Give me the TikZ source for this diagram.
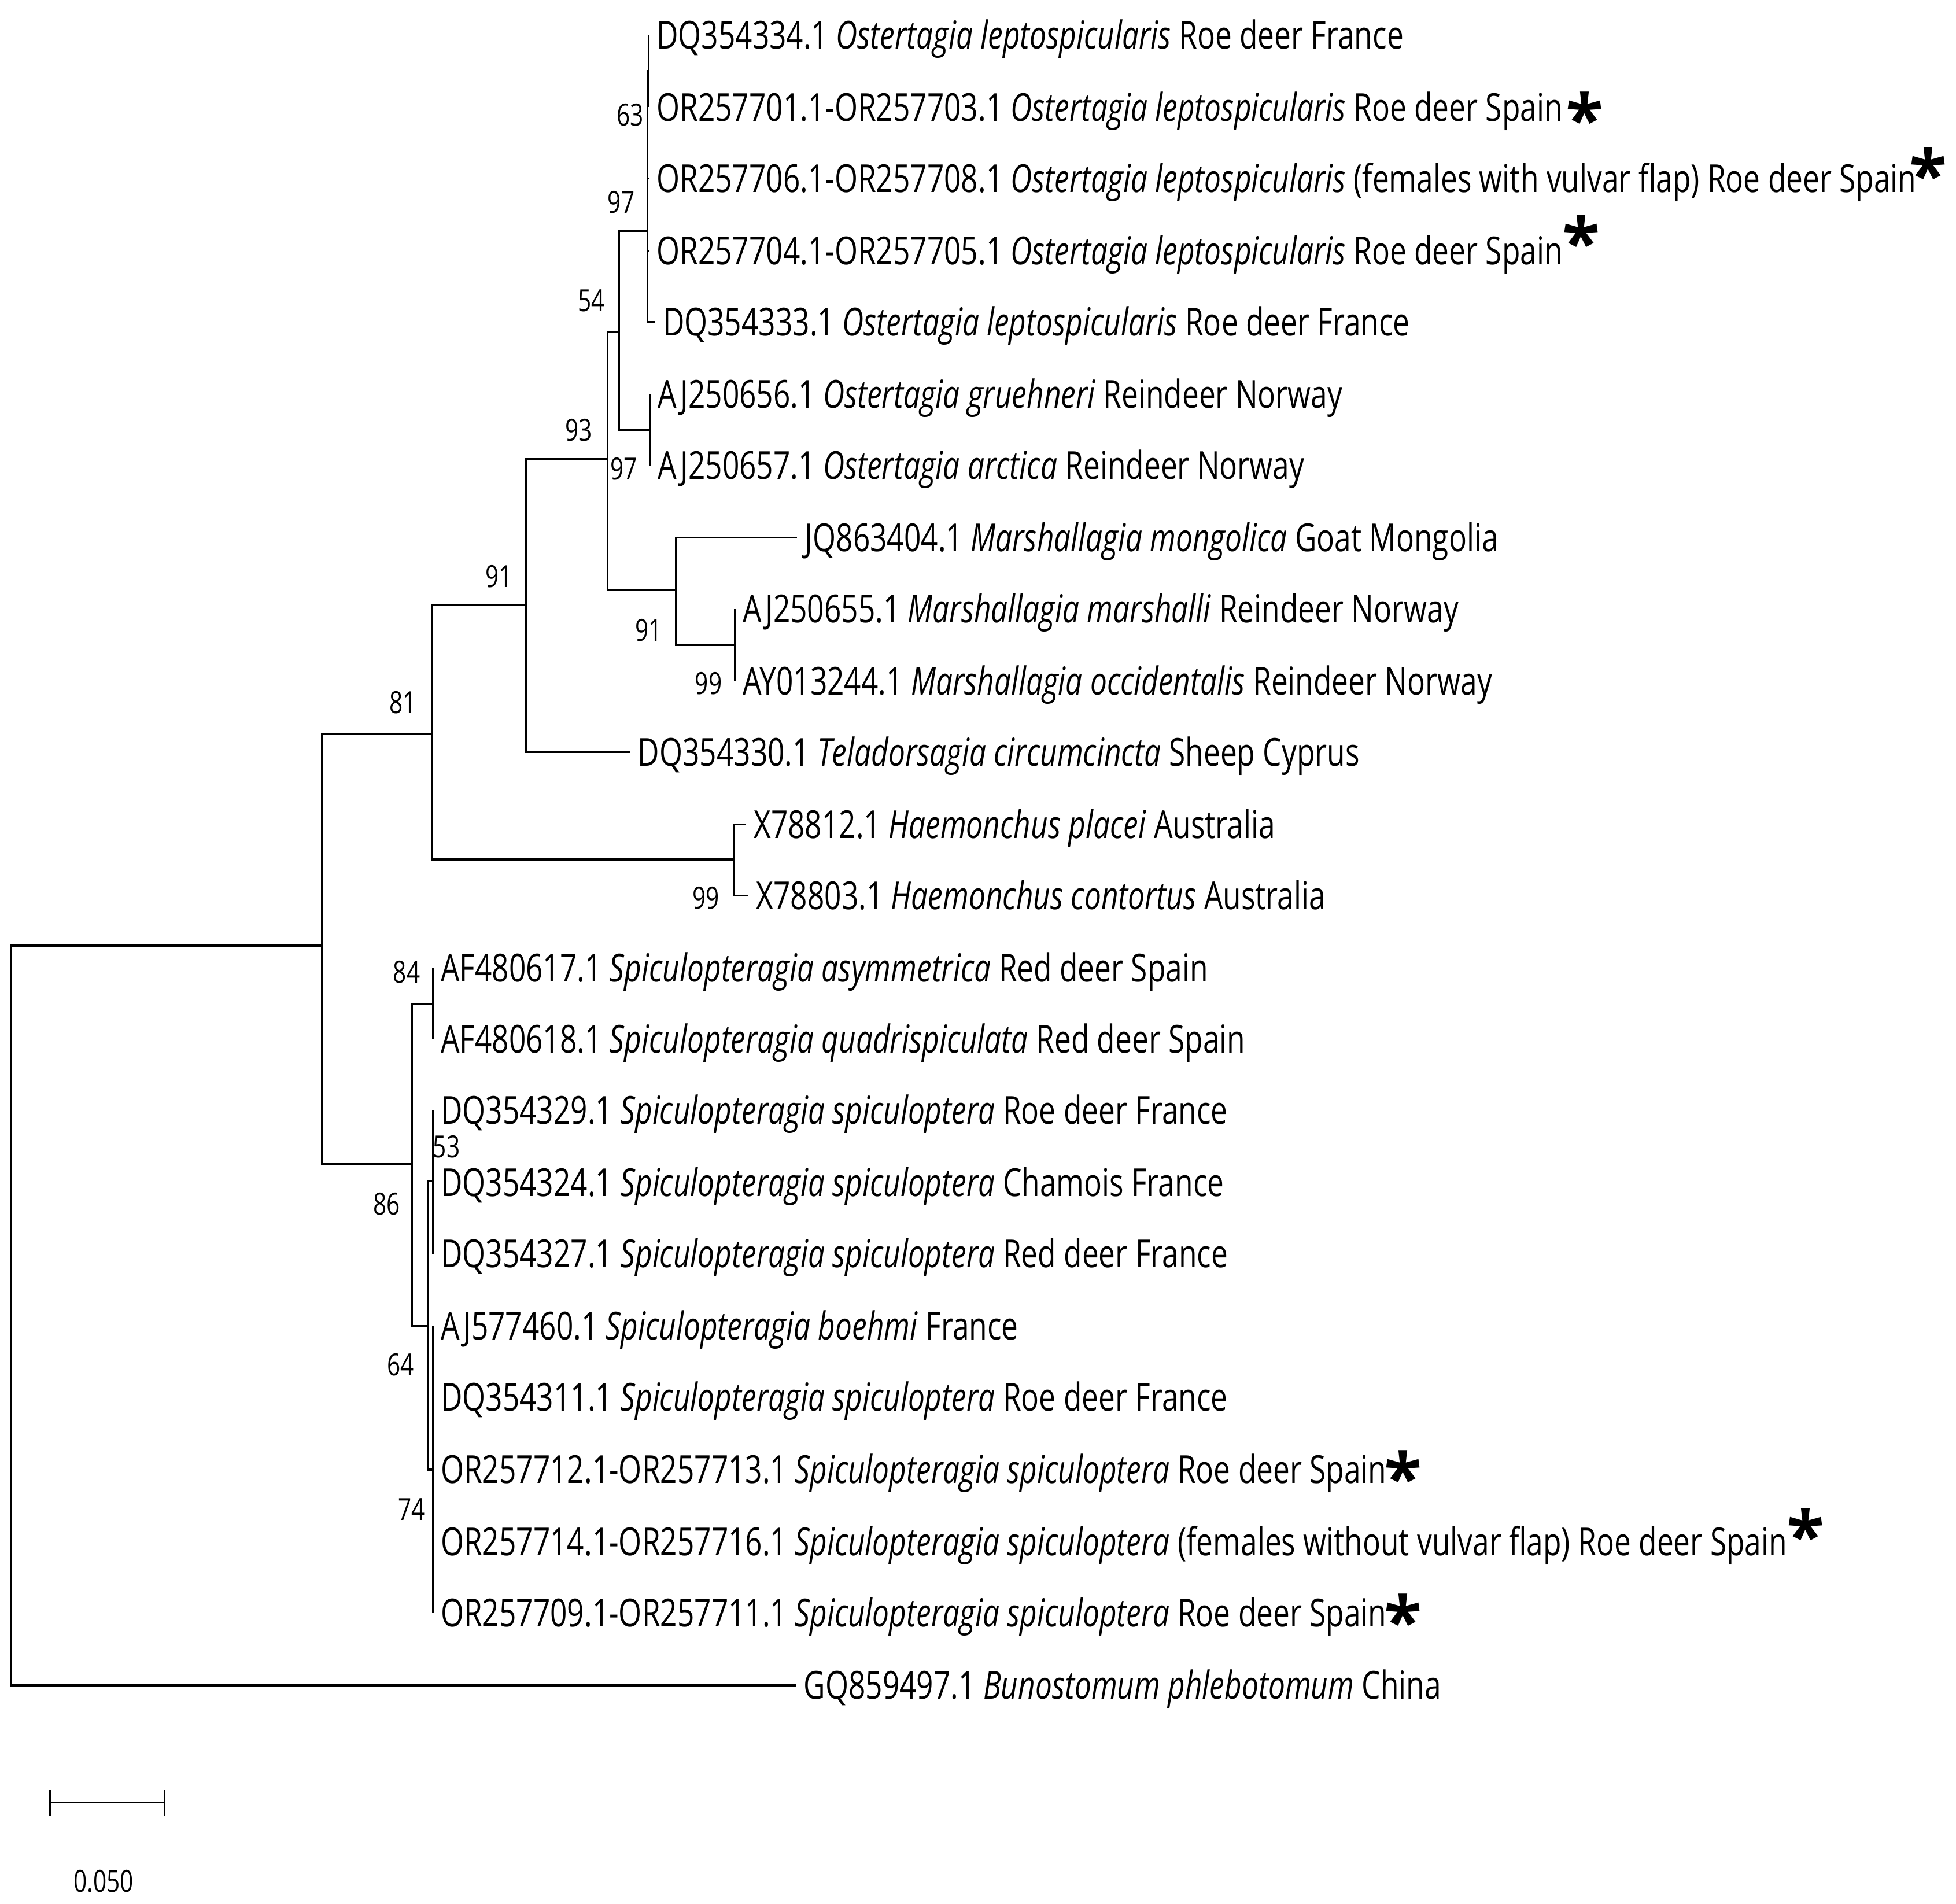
\documentclass[tikz,border=0pt]{standalone}
\usepackage{fontspec}
\setmainfont[FakeStretch=0.77]{Open Sans}
\newfontfamily\astfont{Open Sans}
\usetikzlibrary{arrows}
\tikzset{
  branch/.style={line width=1pt},
  leaf/.style={anchor=west, inner xsep=0.13cm, inner ysep=0pt,
    text height=0.48cm, text depth=0pt, font=\fontsize{19}{22}\selectfont},
  boot/.style={inner sep=0pt, font=\fontsize{15}{18}\selectfont}
}
% #1 gap before the mark, #2 raise
\newcommand{\spainmark}[2]{\hspace{#1}\raisebox{#2}{\astfont\bfseries\fontsize{34}{34}\selectfont *}}

\begin{document}
\begin{tikzpicture}[x=0.02157cm, y=-0.02157cm]
      \useasboundingbox (0,0) rectangle (1568,1526);
      % inner nodes
      \coordinate (r) at (9,1055);
      \coordinate (a) at (258,758);
      \coordinate (n81) at (346,588);
      \coordinate (n91) at (422,485);
      \coordinate (n93) at (487,368);
      \coordinate (n54) at (496,266);
      \coordinate (n97) at (519,185);
      \coordinate (n63) at (520,57);
      \coordinate (naj) at (521,345);
      \coordinate (nm) at (542,473);
      \coordinate (nmm) at (589,517);
      \coordinate (nh) at (588,689);
      \coordinate (n86) at (330,933);
      \coordinate (n84) at (347,805);
      \coordinate (n64) at (343,1063);
      \coordinate (n53) at (347,947);
      \coordinate (n74) at (347,1178);
      % leaves
      \node[leaf] (l1) at (520,28) {DQ354334.1 \textit{Ostertagia leptospicularis} Roe deer France};
      \node[leaf] (l2) at (520,86) {OR257701.1-OR257703.1 \textit{Ostertagia leptospicularis} Roe deer Spain\spainmark{0.06cm}{-0.40cm}};
      \node[leaf] (l3) at (520,143) {OR257706.1-OR257708.1 \textit{Ostertagia leptospicularis} (females with vulvar flap) Roe deer Spain\spainmark{-0.12cm}{-0.13cm}};
      \node[leaf] (l4) at (520,201) {OR257704.1-OR257705.1 \textit{Ostertagia leptospicularis} Roe deer Spain\spainmark{0cm}{-0.05cm}};
      \node[leaf] (l5) at (525,258) {DQ354333.1 \textit{Ostertagia leptospicularis} Roe deer France};
      \node[leaf] (l6) at (521,316) {AJ250656.1 \textit{Ostertagia gruehneri} Reindeer Norway};
      \node[leaf] (l7) at (521,373) {AJ250657.1 \textit{Ostertagia arctica} Reindeer Norway};
      \node[leaf] (l8) at (639,431) {JQ863404.1 \textit{Marshallagia mongolica} Goat Mongolia};
      \node[leaf] (l9) at (589,488) {AJ250655.1 \textit{Marshallagia marshalli} Reindeer Norway};
      \node[leaf] (l10) at (589,546) {AY013244.1 \textit{Marshallagia occidentalis} Reindeer Norway};
      \node[leaf] (l11) at (505,603) {DQ354330.1 \textit{Teladorsagia circumcincta} Sheep Cyprus};
      \node[leaf] (l12) at (598,661) {X78812.1 \textit{Haemonchus placei} Australia};
      \node[leaf] (l13) at (600,718) {X78803.1 \textit{Haemonchus contortus} Australia};
      \node[leaf] (l14) at (347,776) {AF480617.1 \textit{Spiculopteragia asymmetrica} Red deer Spain};
      \node[leaf] (l15) at (347,833) {AF480618.1 \textit{Spiculopteragia quadrispiculata} Red deer Spain};
      \node[leaf] (l16) at (347,890) {DQ354329.1 \textit{Spiculopteragia spiculoptera} Roe deer France};
      \node[leaf] (l17) at (347,948) {DQ354324.1 \textit{Spiculopteragia spiculoptera} Chamois France};
      \node[leaf] (l18) at (347,1005) {DQ354327.1 \textit{Spiculopteragia spiculoptera} Red deer France};
      \node[leaf] (l19) at (347,1063) {AJ577460.1 \textit{Spiculopteragia boehmi} France};
      \node[leaf] (l20) at (347,1120) {DQ354311.1 \textit{Spiculopteragia spiculoptera} Roe deer France};
      \node[leaf] (l21) at (347,1178) {OR257712.1-OR257713.1 \textit{Spiculopteragia spiculoptera} Roe deer Spain\spainmark{-0.04cm}{-0.34cm}};
      \node[leaf] (l22) at (347,1236) {OR257714.1-OR257716.1 \textit{Spiculopteragia spiculoptera} (females without vulvar flap) Roe deer Spain\spainmark{0cm}{-0.09cm}};
      \node[leaf] (l23) at (347,1293) {OR257709.1-OR257711.1 \textit{Spiculopteragia spiculoptera} Roe deer Spain\spainmark{-0.04cm}{-0.34cm}};
      \node[leaf] (l24) at (638,1351) {GQ859497.1 \textit{Bunostomum phlebotomum} China};
      % branches
      \draw[branch] (r) |- (a);
      \draw[branch] (r) |- (l24.west);
      \draw[branch] (a) |- (n81);
      \draw[branch] (a) |- (n86);
      \draw[branch] (n81) |- (n91);
      \draw[branch] (n81) |- (nh);
      \draw[branch] (n91) |- (n93);
      \draw[branch] (n91) |- (l11.west);
      \draw[branch] (n93) |- (n54);
      \draw[branch] (n93) |- (nm);
      \draw[branch] (n54) |- (n97);
      \draw[branch] (n54) |- (naj);
      \draw[branch] (n97) |- (n63);
      \draw[branch] (n97) |- (l3.west);
      \draw[branch] (n97) |- (l4.west);
      \draw[branch] (n97) |- (l5.west);
      \draw[branch] (n63) |- (l1.west);
      \draw[branch] (n63) |- (l2.west);
      \draw[branch] (naj) |- (l6.west);
      \draw[branch] (naj) |- (l7.west);
      \draw[branch] (nm) |- (l8.west);
      \draw[branch] (nm) |- (nmm);
      \draw[branch] (nmm) |- (l9.west);
      \draw[branch] (nmm) |- (l10.west);
      \draw[branch] (nh) |- (l12.west);
      \draw[branch] (nh) |- (l13.west);
      \draw[branch] (n86) |- (n84);
      \draw[branch] (n86) |- (n64);
      \draw[branch] (n84) |- (l14.west);
      \draw[branch] (n84) |- (l15.west);
      \draw[branch] (n64) |- (n53);
      \draw[branch] (n64) |- (n74);
      \draw[branch] (n53) |- (l16.west);
      \draw[branch] (n53) |- (l17.west);
      \draw[branch] (n53) |- (l18.west);
      \draw[branch] (n74) |- (l19.west);
      \draw[branch] (n74) |- (l20.west);
      \draw[branch] (n74) |- (l21.west);
      \draw[branch] (n74) |- (l22.west);
      \draw[branch] (n74) |- (l23.west);
      % bootstrap values
      \node[boot] (b63) at (505,92) {63};
      \node[boot] (b97a) at (498,162) {97};
      \node[boot] (b54) at (474,241) {54};
      \node[boot] (b93) at (464,345) {93};
      \node[boot] (b97b) at (500,376) {97};
      \node[boot] (b91a) at (400,462) {91};
      \node[boot] (b91b) at (520,505) {91};
      \node[boot] (b99a) at (568,548) {99};
      \node[boot] (b81) at (323,563) {81};
      \node[boot] (b99b) at (566,720) {99};
      \node[boot] (b84) at (326,779) {84};
      \node[boot] (b53) at (358,919) {53};
      \node[boot] (b86) at (310,965) {86};
      \node[boot] (b64) at (321,1094) {64};
      \node[boot] (b74) at (330,1210) {74};
      % scale bar
      \coordinate (sb1) at (40,1445);
      \coordinate (sb2) at (132,1445);
      \draw[branch] (sb1) -- (sb2);
      \draw[branch] ([yshift=-0.22cm]sb1) -- ([yshift=0.22cm]sb1);
      \draw[branch] ([yshift=-0.22cm]sb2) -- ([yshift=0.22cm]sb2);
      \node[boot] (sbl) at (83,1508) {0.050};
\end{tikzpicture}
\end{document}
